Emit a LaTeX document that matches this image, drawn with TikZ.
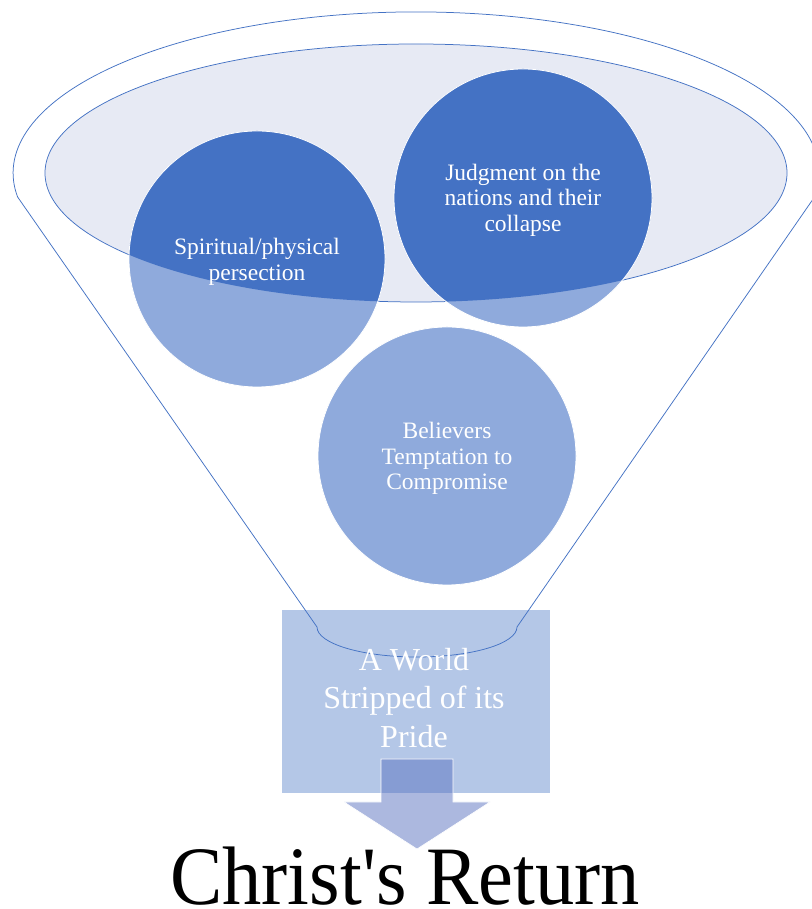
\documentclass[tikz,border=0pt]{standalone}
\usepackage{fontspec}
\setmainfont{Liberation Serif}
\definecolor{dkblue}{HTML}{4472C4}
\definecolor{ltblue}{HTML}{8FAADC}
\definecolor{lav}{HTML}{E7EAF4}
\definecolor{rectblue}{HTML}{B4C7E7}
\definecolor{arrowblue}{HTML}{5A73C1}
\begin{document}
\begin{tikzpicture}[x=1pt,y=1pt,
  outline/.style={draw=dkblue, line width=0.75pt},
  circtext/.style={text=white, align=center, font=\fontsize{23.5}{25.5}\selectfont, inner sep=0pt},
  recttext/.style={text=white, align=center, font=\fontsize{32}{38.5}\selectfont, inner sep=0pt},
  rim/.style={draw=white, line width=0.8pt}]
\fill[white] (0,0) rectangle (811,909);
\useasboundingbox (0,0) rectangle (811,909);
% bottom rectangle
\node[fill=rectblue, minimum width=268pt, minimum height=183pt, inner sep=0pt] (prbox) at (416,207.5) {};
% funnel outline
\draw[outline] (814.5,712) arc[start angle=-8.6, end angle=188.6, x radius=403pt, y radius=161pt]
  -- (317,282) arc[start angle=180, end angle=360, x radius=100pt, y radius=30pt] -- cycle;
% inner ellipse
\draw[outline, fill=lav] (416,736) ellipse[x radius=371pt, y radius=129pt];
% circles
\fill[ltblue] (257,650) circle[radius=128pt] (523,711) circle[radius=129pt] (447,453) circle[radius=129pt];
\begin{scope}
  \clip (416,736) ellipse[x radius=371pt, y radius=129pt];
  \fill[dkblue] (257,650) circle[radius=128pt] (523,711) circle[radius=129pt];
\end{scope}
\draw[rim] (257,650) circle[radius=128pt] (523,711) circle[radius=129pt] (447,453) circle[radius=129pt];
\node[circtext] (persec) at (257,647) {Spiritual/physical\\persection};
\node[circtext] (judg) at (523,709) {Judgment on the\\nations and their\\collapse};
\node[circtext] (believ) at (447,450.5) {Believers\\Temptation to\\Compromise};
% arrow
\draw[draw=white, line width=0.6pt, fill=arrowblue, fill opacity=0.5]
  (381,150) -- (453,150) -- (453,107) -- (490,107) -- (417,60) -- (344,107) -- (381,107) -- cycle;
\node[recttext] (prtext) at (414,211) {A World\\Stripped of its\\Pride};
\node[anchor=base, inner sep=0pt, font=\fontsize{83}{90}\selectfont] (title) at (405,5) {\scalebox{0.945}[1]{Christ\textquotesingle s Return}};
\end{tikzpicture}
\end{document}
